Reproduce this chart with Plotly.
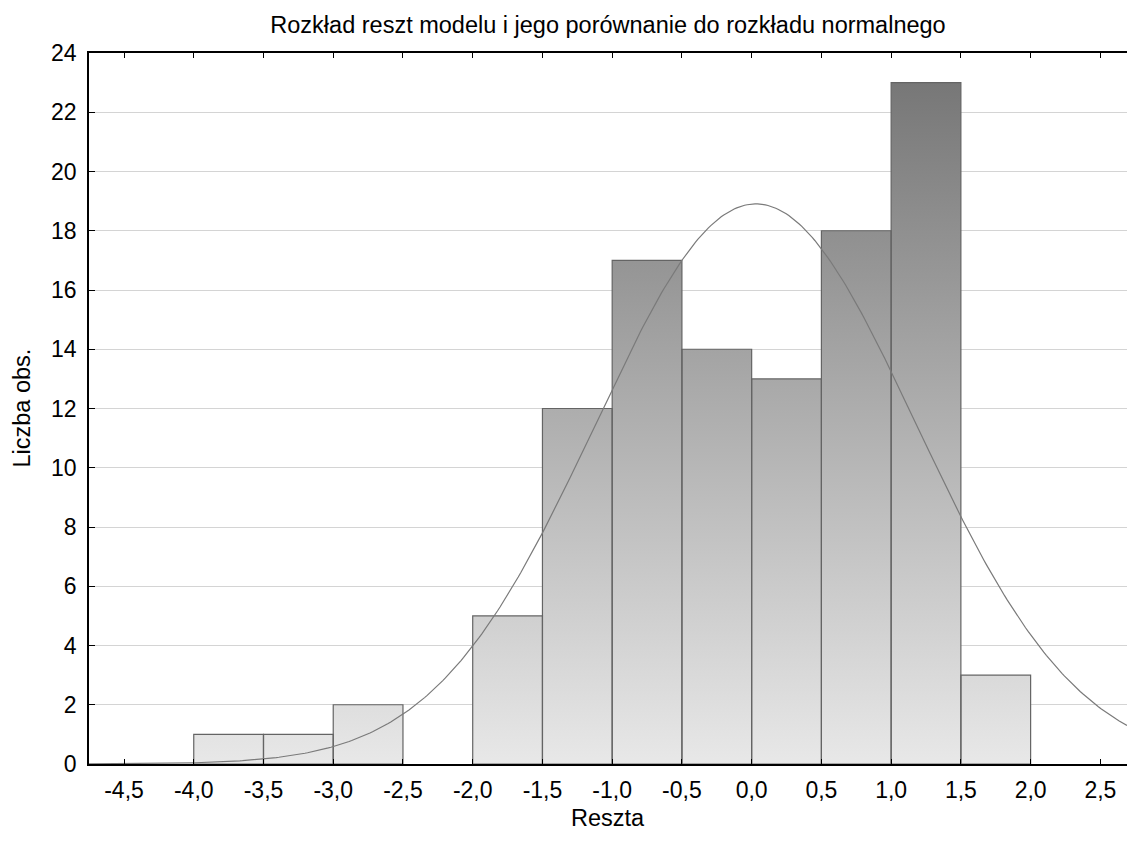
import numpy as np
import plotly.graph_objects as go

# ---- data ----
bin_left = [-4.0, -3.5, -3.0, -2.5, -2.0, -1.5, -1.0, -0.5, 0.0, 0.5, 1.0, 1.5]
bin_width = 0.5
counts = [1, 1, 2, 0, 5, 12, 17, 14, 13, 18, 23, 3]
fit_mean = 0.03
fit_sd = 1.15
x_tickvals = [-4.5, -4.0, -3.5, -3.0, -2.5, -2.0, -1.5, -1.0, -0.5, 0.0, 0.5, 1.0, 1.5, 2.0, 2.5]
x_ticktext = ["-4,5", "-4,0", "-3,5", "-3,0", "-2,5", "-2,0", "-1,5", "-1,0", "-0,5",
              "0,0", "0,5", "1,0", "1,5", "2,0", "2,5"]
y_tickvals = list(range(0, 25, 2))

title_text = "Rozkład reszt modelu i jego porównanie do rozkładu normalnego"
x_title = "Reszta"
y_title = "Liczba obs."

W, H = 1127, 842
ML, MR, MT, MB = 89, 0, 53, 78
XR = [-4.751, 2.691]
YR = [0, 24]
FONT = "Liberation Sans, Arial, sans-serif"
FS = 23
FT = 23.5

# bars as polygons with vertical gradient
xs, ys = [], []
for xl, c in zip(bin_left, counts):
    if c <= 0:
        continue
    xr = xl + bin_width
    xs += [xl, xl, xr, xr, xl, None]
    ys += [0, c, c, 0, 0, None]

fig = go.Figure()
fig.add_trace(go.Scatter(
    x=xs, y=ys, mode="lines", fill="toself",
    line=dict(color="#646464", width=1.2),
    fillgradient=dict(type="vertical", start=0, stop=max(counts),
                      colorscale=[[0, "#e8e8e8"], [1, "#777777"]]),
    hoverinfo="skip", showlegend=False,
))

# fitted normal curve
n_total = sum(counts)
xc = np.linspace(XR[0], XR[1], 400)
yc = n_total * bin_width / (fit_sd * np.sqrt(2 * np.pi)) * np.exp(-0.5 * ((xc - fit_mean) / fit_sd) ** 2)
fig.add_trace(go.Scatter(x=xc, y=yc, mode="lines", line=dict(color="#7a7a7a", width=1.2),
                         hoverinfo="skip", showlegend=False))

pw = W - ML - MR
ph = H - MT - MB

fig.update_layout(
    width=W, height=H,
    margin=dict(l=ML, r=MR, t=MT, b=MB, pad=0),
    paper_bgcolor="white", plot_bgcolor="white",
    font=dict(family=FONT, size=FS, color="black"),
    title=dict(text=title_text, x=0.5, xref="paper", xanchor="center",
               y=1 - 25 / H, yref="container", yanchor="middle",
               font=dict(family=FONT, size=FT, color="black")),
    xaxis=dict(range=XR, tickvals=x_tickvals, ticktext=x_ticktext,
               ticks="inside", ticklen=5, tickwidth=1.2, tickcolor="black",
               showline=True, linecolor="black", linewidth=1.5, mirror="ticks",
               showgrid=False, zeroline=False, fixedrange=True, ticklabelstandoff=5,
               tickfont=dict(family=FONT, size=FS, color="black")),
    yaxis=dict(range=YR, tickvals=y_tickvals,
               ticks="inside", ticklen=6, tickwidth=1.2, tickcolor="black",
               showline=True, linecolor="black", linewidth=1.5,
               showgrid=True, gridcolor="#d4d4d4", gridwidth=1,
               zeroline=False, fixedrange=True, ticklabelstandoff=6,
               tickfont=dict(family=FONT, size=FS, color="black")),
    annotations=[
        dict(text=x_title, xref="paper", yref="paper", x=0.5, y=-(818 - (MT + ph)) / ph,
             xanchor="center", yanchor="middle", showarrow=False,
             font=dict(family=FONT, size=FT, color="black")),
        dict(text=y_title, xref="paper", yref="paper", x=-(ML - 21) / pw, y=0.5,
             xanchor="center", yanchor="middle", textangle=-90, showarrow=False,
             font=dict(family=FONT, size=FT, color="black")),
    ],
)

fig.write_html("out.html", config={"displayModeBar": False},
               post_script="document.body.style.margin='0px';")
